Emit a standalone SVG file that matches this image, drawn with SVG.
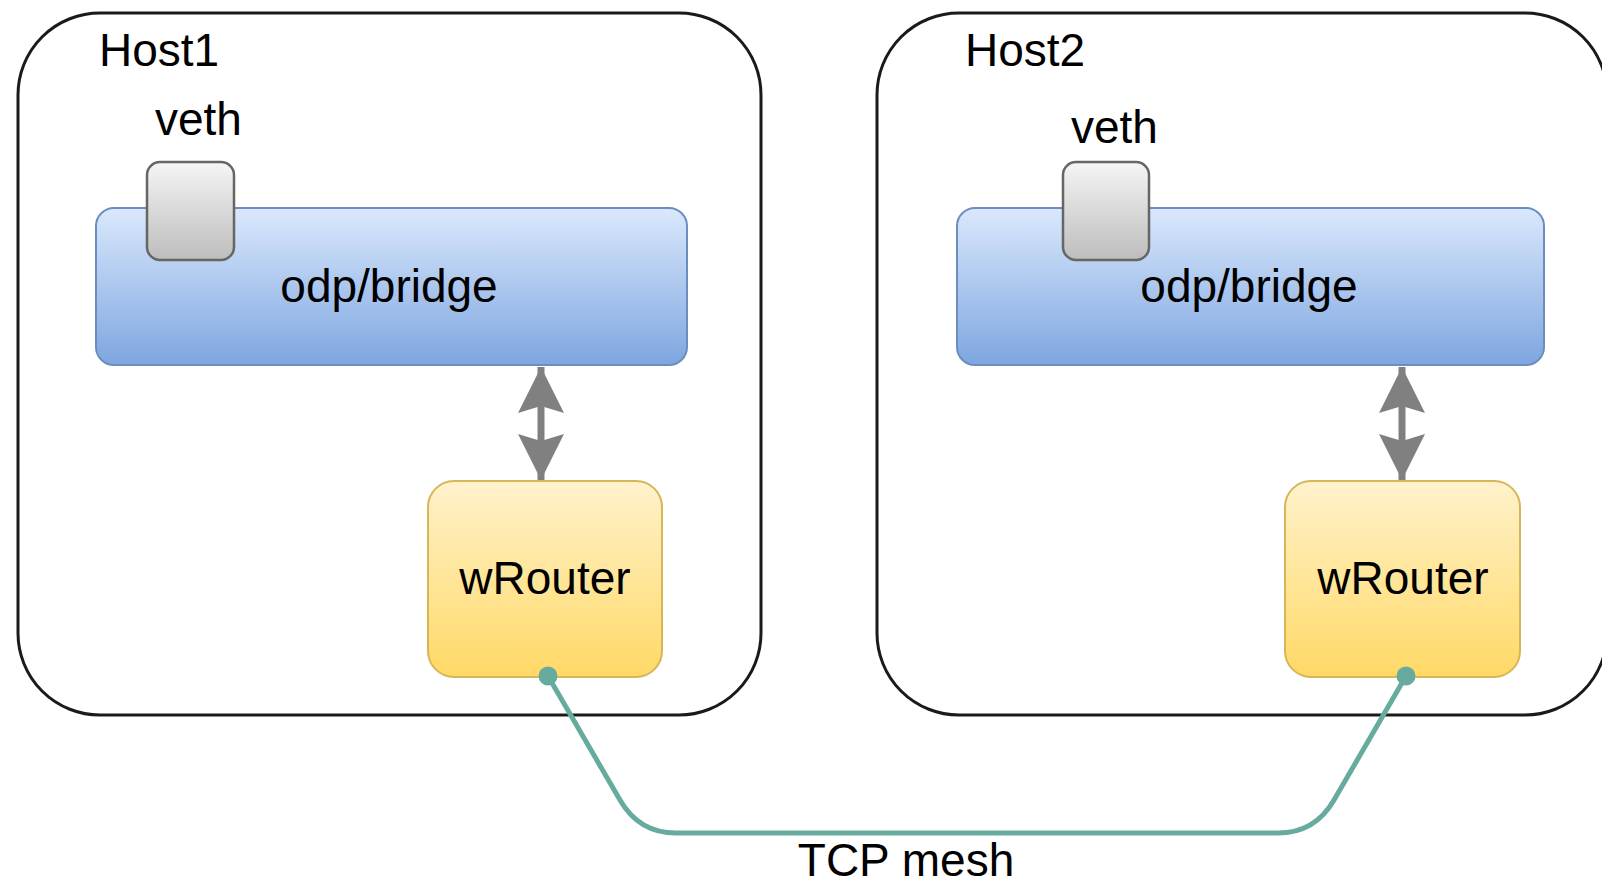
<svg xmlns="http://www.w3.org/2000/svg" width="1602" height="887" viewBox="0 0 1602 887">
<defs>
<linearGradient id="gBlue" x1="0" y1="0" x2="0" y2="1"><stop offset="0" stop-color="#dae8fc"/><stop offset="1" stop-color="#7ea6e0"/></linearGradient>
<linearGradient id="gGray" x1="0" y1="0" x2="0" y2="1"><stop offset="0" stop-color="#f5f5f5"/><stop offset="1" stop-color="#bdbdbd"/></linearGradient>
<linearGradient id="gYellow" x1="0" y1="0" x2="0" y2="1"><stop offset="0" stop-color="#fff2cc"/><stop offset="1" stop-color="#ffd966"/></linearGradient>
<marker id="ah" viewBox="0 0 46 46" refX="46" refY="23" markerWidth="46" markerHeight="46" markerUnits="userSpaceOnUse" orient="auto-start-reverse">
<path d="M0,0 L46,23 L0,46 L7,23 Z" fill="#808080"/>
</marker>
<style>
.host{fill:#ffffff;stroke:#1a1a1a;stroke-width:3}
.bridge{fill:url(#gBlue);stroke:#6c8ebf;stroke-width:2}
.veth{fill:url(#gGray);stroke:#666666;stroke-width:2.5}
.router{fill:url(#gYellow);stroke:#d6b656;stroke-width:2}
.t{font-family:"Liberation Sans",Arial,sans-serif;font-size:46px;fill:#000}
.mid{text-anchor:middle}
.dbl{stroke:#808080;stroke-width:7;fill:none;marker-start:url(#ah);marker-end:url(#ah)}
.tcp{stroke:#67ab9f;stroke-width:5;fill:none}
.dot{fill:#67ab9f}
</style>
</defs>
<rect width="1602" height="887" fill="#ffffff"/>
<g id="host1">
<rect class="host" x="18" y="13" width="743" height="702" rx="82" ry="82"/>
<text class="t" x="99" y="66">Host1</text>
</g>
<g id="host2">
<rect class="host" x="877" y="13" width="730" height="702" rx="82" ry="82"/>
<text class="t" x="965" y="66">Host2</text>
</g>
<g id="bridge1">
<rect class="bridge" x="96" y="208" width="591" height="157" rx="18" ry="18"/>
<text class="t mid" x="389" y="302">odp/bridge</text>
</g>
<g id="bridge2">
<rect class="bridge" x="957" y="208" width="587" height="157" rx="18" ry="18"/>
<text class="t mid" x="1249" y="302">odp/bridge</text>
</g>
<g id="veth1">
<rect class="veth" x="147" y="162" width="87" height="98" rx="13" ry="13"/>
<text class="t" x="155" y="135">veth</text>
</g>
<g id="veth2">
<rect class="veth" x="1063" y="162" width="86" height="98" rx="13" ry="13"/>
<text class="t" x="1071" y="143">veth</text>
</g>
<g id="wrouter1">
<rect class="router" x="428" y="481" width="234" height="196" rx="26" ry="26"/>
<text class="t mid" x="545" y="594">wRouter</text>
</g>
<g id="wrouter2">
<rect class="router" x="1285" y="481" width="235" height="196" rx="26" ry="26"/>
<text class="t mid" x="1403" y="594">wRouter</text>
</g>
<g id="connectors">
<line class="dbl" x1="541" y1="367" x2="541" y2="480"/>
<line class="dbl" x1="1402" y1="367" x2="1402" y2="480"/>
<path class="tcp" d="M548,676 L620,800 Q639,833 676,833 L1278,833 Q1315,833 1334,800 L1406,676"/>
<circle class="dot" cx="548" cy="676" r="9.5"/>
<circle class="dot" cx="1406" cy="676" r="9.5"/>
<text class="t mid" x="906" y="876">TCP mesh</text>
</g>
</svg>
